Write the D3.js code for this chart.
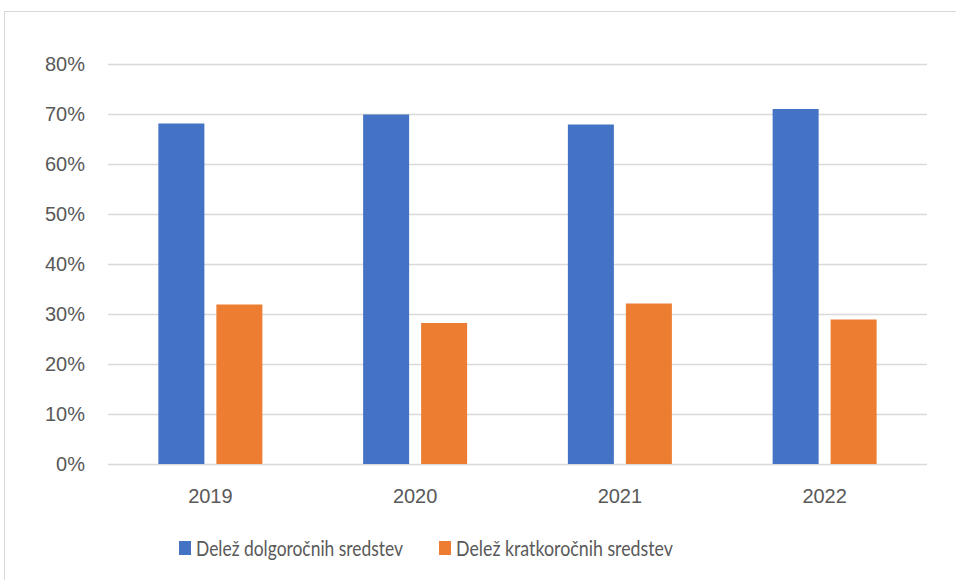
<!DOCTYPE html>
<html>
<head>
<meta charset="utf-8">
<script src="https://cdn.jsdelivr.net/npm/d3@7"></script>
<style>
  body { margin: 0; background: #fff; }
  svg { display: block; font-family: Lato, "Open Sans", sans-serif; }
</style>
</head>
<body>
<svg id="chart" width="956" height="580"></svg>
<script>
// data
var years = ["2019", "2020", "2021", "2022"];
var seriesNames = ["Delež dolgoročnih sredstev", "Delež kratkoročnih sredstev"];
var dolgorocna = [68.1, 69.9, 67.9, 71.0];
var kratkorocna = [31.9, 28.2, 32.1, 28.9];
var yTicks = [0, 10, 20, 30, 40, 50, 60, 70, 80];
var colors = ["#4472C4", "#ED7D31"];

var svg = d3.select("#chart");
var margin = {left: 108, right: 29, top: 64, bottom: 116}; // plot area
var width = 956 - margin.left - margin.right,
    height = 580 - margin.top - margin.bottom;

// chart frame
svg.append("rect")
    .attr("x", 4.5).attr("y", 11.5)
    .attr("width", 980).attr("height", 600)
    .attr("fill", "none")
    .attr("stroke", "#d9d9d9");

var g = svg.append("g")
    .attr("transform", "translate(" + margin.left + "," + margin.top + ")");

var x = d3.scaleBand().domain(years).range([0, width]);
var y = d3.scaleLinear().domain([0, 80]).range([height, 0]);

// gridlines + y labels
var yAxis = d3.axisLeft(y)
    .tickValues(yTicks)
    .tickSize(-width)
    .tickPadding(23)
    .tickFormat(function(d) { return d + "%"; });

g.append("g")
    .attr("class", "y-axis")
    .call(yAxis)
    .call(function(s) {
      s.select(".domain").remove();
      s.selectAll("line").attr("stroke", "#d9d9d9").attr("stroke-width", 1.3);
      s.selectAll("text")
        .attr("fill", "#595959")
        .style("font-size", "20px");
    });

// x labels
var xAxis = d3.axisBottom(x).tickSize(0).tickPadding(25);
g.append("g")
    .attr("transform", "translate(0," + height + ")")
    .call(xAxis)
    .call(function(s) {
      s.select(".domain").remove();
      s.selectAll("text")
        .attr("fill", "#595959")
        .style("font-size", "20px");
    });

// bars
var barW = 46, gap = 12;
var series = [dolgorocna, kratkorocna];
series.forEach(function(vals, i) {
  g.append("g")
    .selectAll("rect")
    .data(vals)
    .enter().append("rect")
      .attr("x", function(d, j) {
        var c = x(years[j]) + x.bandwidth() / 2;
        return i === 0 ? c - gap / 2 - barW : c + gap / 2;
      })
      .attr("y", function(d) { return y(d); })
      .attr("width", barW)
      .attr("height", function(d) { return height - y(d); })
      .attr("fill", colors[i]);
});

// legend (text squeezed a bit, the original font is narrower)
var legend = svg.append("g").attr("transform", "translate(0,548)");
var legendX = [179, 439];
var legendLen = [207, 217];
seriesNames.forEach(function(name, i) {
  var item = legend.append("g").attr("transform", "translate(" + legendX[i] + ",0)");
  item.append("rect")
    .attr("x", 0).attr("y", -7)
    .attr("width", 12).attr("height", 14)
    .attr("fill", colors[i]);
  item.append("text")
    .attr("x", 17)
    .attr("y", 0)
    .attr("dy", "0.37em")
    .attr("fill", "#595959")
    .attr("textLength", legendLen[i])
    .attr("lengthAdjust", "spacingAndGlyphs")
    .style("font-size", "21px")
    .text(name);
});
</script>
</body>
</html>
